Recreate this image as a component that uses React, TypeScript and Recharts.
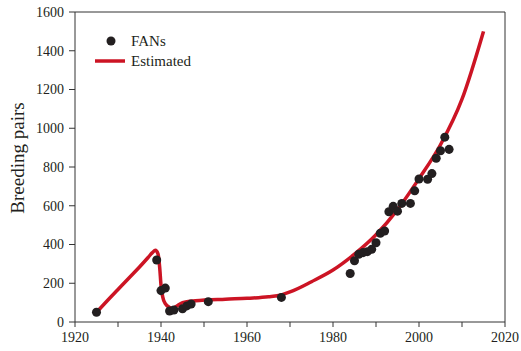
import { ComposedChart, Scatter, Line, XAxis, YAxis, ReferenceLine, Legend } from "recharts"

const fanYears = [1925, 1939, 1940, 1941, 1942, 1943, 1945, 1946, 1947, 1951, 1968, 1984, 1985, 1986, 1987, 1988, 1989, 1990, 1991, 1992, 1993, 1994, 1995, 1996, 1998, 1999, 2000, 2002, 2003, 2004, 2005, 2006, 2007]
const fanPairs = [50, 320, 162, 175, 57, 62, 68, 83, 93, 105, 127, 250, 316, 350, 358, 363, 375, 409, 458, 470, 569, 597, 572, 612, 612, 677, 738, 737, 766, 845, 884, 954, 891]

const estYears = [1925, 1927.5, 1930, 1932.5, 1935, 1937, 1938, 1938.7, 1939.3, 1939.7, 1940, 1940.4, 1941, 1942, 1942.7, 1943.5, 1945, 1948, 1955, 1960, 1965, 1968, 1970, 1975, 1980, 1985, 1990, 1995, 2000, 2005, 2010, 2015]
const estPairs = [50, 110, 168, 226, 284, 333, 358, 370, 352, 280, 190, 130, 95, 75, 70, 80, 100, 110, 118, 122, 130, 140, 155, 208, 268, 350, 450, 580, 740, 915, 1150, 1500]

const xTicks = [1920, 1930, 1940, 1950, 1960, 1970, 1980, 1990, 2000, 2010, 2020]
const yTicks = [0, 200, 400, 600, 800, 1000, 1200, 1400, 1600]

const fans = fanYears.map((year, i) => ({ year, pairs: fanPairs[i] }))
const estimated = estYears.map((year, i) => ({ year, pairs: estPairs[i] }))

const INK = "#231f20"
const RED = "#cc1424"
const FONT = "Liberation Serif"

function LegendBox() {
  return (
    <svg width={120} height={44} style={{ fontFamily: FONT }}>
      <circle cx={16} cy={11} r={4.5} fill={INK} />
      <text x={36} y={16} fontSize={15} fill={INK}>FANs</text>
      <line x1={0} x2={30} y1={31} y2={31} stroke={RED} strokeWidth={3.5} />
      <text x={36} y={36} fontSize={15} fill={INK}>Estimated</text>
    </svg>
  )
}

export default function App() {
  const tickStyle = { fontSize: 14, fill: INK, fontFamily: FONT }
  return (
    <div style={{ position: "absolute", left: 0, top: 0 }}>
      <ComposedChart width={521} height={351} margin={{ top: 12, right: 16, bottom: 0, left: 0 }}>
        <XAxis
          type="number"
          dataKey="year"
          domain={[1920, 2020]}
          ticks={xTicks}
          tickFormatter={(v: number) => (v % 20 === 0 ? String(v) : "")}
          interval={0}
          height={29}
          tickSize={5}
          tickMargin={5}
          stroke="#333"
          tick={tickStyle}
        />
        <YAxis
          type="number"
          dataKey="pairs"
          domain={[0, 1600]}
          ticks={yTicks}
          interval={0}
          width={75}
          tickSize={6}
          tickMargin={5}
          stroke="#333"
          tick={tickStyle}
          label={() => (
            <text
              x={17}
              y={158}
              transform="rotate(-90 17 158)"
              textAnchor="middle"
              dominantBaseline="central"
              fontSize={19}
              fill={INK}
              fontFamily={FONT}
            >
              Breeding pairs
            </text>
          )}
        />
        <ReferenceLine y={1600} stroke="#333" />
        <ReferenceLine x={2020} stroke="#333" />
        <Legend
          layout="vertical"
          align="center"
          verticalAlign="middle"
          wrapperStyle={{ left: 95, top: 30, width: 120 }}
          content={() => <LegendBox />}
        />
        <Scatter name="FANs" data={fans} fill={INK} isAnimationActive={false} />
        <Line
          name="Estimated"
          data={estimated}
          dataKey="pairs"
          type="monotone"
          stroke={RED}
          strokeWidth={3.5}
          dot={false}
          activeDot={false}
          isAnimationActive={false}
        />
      </ComposedChart>
    </div>
  )
}
